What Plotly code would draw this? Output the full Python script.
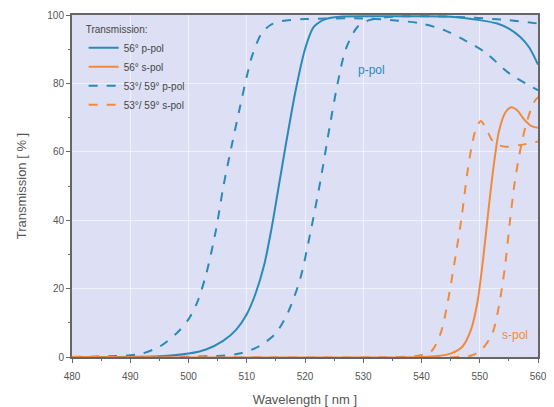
import plotly.graph_objects as go

# ---- data ----
wl_p56 = [480, 495, 500, 503, 506, 508.2, 510, 511.5, 513, 514.3, 515.5, 516.8, 518.4, 520, 521.5, 523.5, 526, 535, 545, 550, 553, 555, 557, 558.5, 560]
t_p56 = [0, 0.2, 1, 2.2, 4.8, 8, 12.5, 18.5, 27, 38, 50, 63, 78, 90, 96.5, 98.8, 99.5, 99.6, 99.5, 98.5, 97.5, 96, 93.5, 90.5, 85.5]

wl_p_a = [480, 490, 492, 495, 498, 500, 501.5, 503, 504.7, 506, 507.5, 508.7, 510, 511, 512.5, 514, 516, 520, 530, 535, 540, 544, 547, 551, 555, 560]
t_p_a = [0, 0.5, 1, 3, 7, 11, 16, 24, 37, 50, 62.5, 72, 82, 88.5, 94.5, 97, 98.2, 98.8, 99, 98.5, 97.5, 95.5, 93, 89, 83, 78]

wl_p_b = [480, 505, 508.7, 512, 515, 517.2, 519.2, 521, 522.7, 524.2, 525.6, 527, 529, 531, 535, 545, 555, 560]
t_p_b = [0, 0.3, 1, 3, 7, 13.5, 23, 37, 52, 67, 80, 90, 96.5, 98.5, 99.5, 99.5, 98.5, 97.5]

wl_s56 = [480, 540, 542.8, 545, 547, 548.5, 549.6, 550.6, 551.5, 552.4, 553.3, 554.4, 555.4, 556.5, 557.6, 558.8, 560]
t_s56 = [0, 0, 0.3, 1, 3, 8, 16, 29, 43, 56, 66, 71.5, 73, 72, 69.5, 67.6, 67]

wl_s_a = [480, 536, 539, 541.6, 543.3, 544.5, 545.7, 546.9, 547.8, 548.6, 549.4, 550.2, 551.3, 552.5, 554.5, 557, 560]
t_s_a = [0, 0, 0.3, 1.5, 7, 16, 28, 41, 53, 61.5, 67, 69, 66, 62.5, 61.5, 62, 63]

wl_s_b = [480, 546, 548.7, 550.5, 552.2, 553.3, 554.3, 555.2, 556, 556.9, 557.8, 558.7, 559.5, 560]
t_s_b = [0, 0, 0.5, 2.5, 7, 15, 26, 40, 51, 60, 67, 72, 75, 76]

x_ticks = [480, 490, 500, 510, 520, 530, 540, 550, 560]
y_ticks = [0, 20, 40, 60, 80, 100]

BLUE = "#2b89b8"
ORANGE = "#f08a3e"

fig = go.Figure()

def add(x, y, color, dash, name, group, show):
    fig.add_trace(go.Scatter(
        x=x, y=y, mode="lines", name=name, legendgroup=group, showlegend=show,
        line=dict(color=color, width=2, dash=dash, shape="spline", smoothing=0.8)))

add(wl_p56, t_p56, BLUE, "solid", "56° p-pol", "p56", True)
add(wl_s56, t_s56, ORANGE, "solid", "56° s-pol", "s56", True)
add(wl_p_a, t_p_a, BLUE, "dash", "53°/ 59° p-pol", "pd", True)
add(wl_p_b, t_p_b, BLUE, "dash", "53°/ 59° p-pol", "pd", False)
add(wl_s_a, t_s_a, ORANGE, "dash", "53°/ 59° s-pol", "sd", True)
add(wl_s_b, t_s_b, ORANGE, "dash", "53°/ 59° s-pol", "sd", False)

fig.add_annotation(x=531.5, y=84, text="p-pol", showarrow=False,
                   font=dict(color=BLUE, size=12, family="Liberation Sans"))
fig.add_annotation(x=556, y=6.4, text="s-pol", showarrow=False,
                   font=dict(color=ORANGE, size=12, family="Liberation Sans"))

axis_common = dict(
    showline=True, linecolor="#666666", linewidth=2, mirror=True,
    ticks="outside", ticklen=4, tickcolor="#666666", tickwidth=1,
    showgrid=True, gridcolor="rgba(255,255,255,0.55)", gridwidth=1,
    zeroline=False, automargin=False,
    tickfont=dict(size=10, color="#555555", family="Liberation Sans"),
)

fig.update_xaxes(range=[480, 560], tickvals=x_ticks, ticktext=[str(v) for v in x_ticks],
                 ticklabelstandoff=5,
                 minor=dict(dtick=5, ticks="outside", ticklen=2, tickcolor="#666666", showgrid=False),
                 title=dict(text="Wavelength [ nm ]", font=dict(size=13, color="#555555", family="Liberation Sans"), standoff=14),
                 **axis_common)
fig.update_yaxes(range=[0, 100], tickvals=y_ticks, ticktext=[str(v) for v in y_ticks],
                 minor=dict(dtick=10, ticks="outside", ticklen=2, tickcolor="#666666", showgrid=False),
                 title=dict(text="Transmission [ % ]", font=dict(size=13, color="#555555", family="Liberation Sans"), standoff=18),
                 **axis_common)

fig.update_layout(
    width=554, height=407,
    margin=dict(l=72, r=16, t=15, b=50),
    paper_bgcolor="white",
    plot_bgcolor="#dde0f4",
    legend=dict(
        title=dict(text="Transmission:", font=dict(size=10, color="#444444", family="Liberation Sans")),
        x=0.025, y=0.985, xanchor="left", yanchor="top",
        bgcolor="rgba(0,0,0,0)", font=dict(size=10, color="#444444", family="Liberation Sans"),
        tracegroupgap=0, itemwidth=30,
    ),
)

# remove the default page margin so the figure sits at the window's top-left corner
fig.write_html("out.html", config={"displayModeBar": False},
               post_script="document.body.style.margin='0';document.body.style.padding='0';document.body.style.overflow='hidden';")
